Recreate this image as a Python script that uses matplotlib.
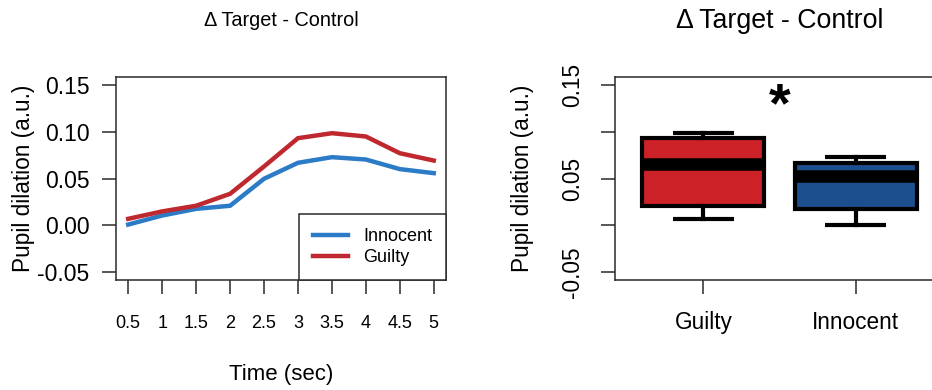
import matplotlib
matplotlib.use("Agg")
import matplotlib.pyplot as plt
import numpy as np

plt.rcParams["font.family"] = ["Liberation Sans", "DejaVu Sans"]

# data
time_sec = [0.5, 1, 1.5, 2, 2.5, 3, 3.5, 4, 4.5, 5]
innocent = [0.001, 0.0106, 0.0177, 0.021, 0.0497, 0.0667, 0.0727, 0.0702, 0.060, 0.0557]
guilty = [0.0071, 0.015, 0.021, 0.0337, 0.0628, 0.0929, 0.0982, 0.0947, 0.0769, 0.0691]
y_ticks = [-0.05, 0.00, 0.05, 0.10, 0.15]
box_groups = ["Guilty", "Innocent"]

title = "\u0394 Target - Control"
ylabel = "Pupil dilation (a.u.)"

INNOCENT_LINE = "#2B7BC6"
GUILTY_LINE = "#C02830"
GUILTY_FILL = "#CB2127"
INNOCENT_FILL = "#1C4F8D"
SPINE = "#2a2a2a"


def fivenum(vals):
    """Tukey five-number summary, as R's boxplot uses."""
    x = np.sort(np.asarray(vals, dtype=float))
    n = len(x)
    n4 = np.floor((n + 3) / 2) / 2
    d = np.array([1, n4, (n + 1) / 2, n + 1 - n4, n]) - 1
    return 0.5 * (x[np.floor(d).astype(int)] + x[np.ceil(d).astype(int)])


W, H = 932, 390
fig = plt.figure(figsize=(W / 100, H / 100), dpi=100)

# ---- left: time course ----------------------------------------------------
ax1 = fig.add_axes([116 / W, 110 / H, 330 / W, 203 / H])
ax1.plot(time_sec, innocent, color=INNOCENT_LINE, lw=3.2, label="Innocent",
         solid_joinstyle="miter")
ax1.plot(time_sec, guilty, color=GUILTY_LINE, lw=3.2, label="Guilty",
         solid_joinstyle="miter")
ax1.set_xlim(0.32, 5.18)
ax1.set_ylim(-0.058, 0.158)
ax1.set_xticks(time_sec)
ax1.set_xticklabels([f"{t:g}" for t in time_sec])
ax1.set_yticks(y_ticks)
ax1.set_yticklabels([f"{v:.2f}" for v in y_ticks])
ax1.tick_params(axis="x", length=10, width=1.1, pad=15, labelsize=13, color=SPINE)
ax1.tick_params(axis="y", length=10, width=1.1, pad=9, labelsize=16.5, color=SPINE)
for s in ax1.spines.values():
    s.set_linewidth(1.1)
    s.set_color(SPINE)
leg = ax1.legend(loc="lower right", fontsize=13, frameon=True, fancybox=False,
                 borderaxespad=0, handlelength=1.95, handletextpad=0.85,
                 labelspacing=0.25, borderpad=0.75, framealpha=1)
leg.get_frame().set_edgecolor(SPINE)
leg.get_frame().set_linewidth(1.1)
fig.text(281 / W, 1 - 26.5 / H, title, ha="center", va="baseline", fontsize=14.3)
fig.text(24 / W, (H - 178) / H, ylabel, rotation=90,
         ha="center", va="center", fontsize=16.3)
fig.text(281 / W, 1 - 380 / H, "Time (sec)", ha="center", va="baseline", fontsize=16)

# ---- right: boxplot of the same series --------------------------------------
ax2 = fig.add_axes([615 / W, 110 / H, 329 / W, 203 / H])
stats = []
for name, vals in zip(box_groups, [guilty, innocent]):
    lo, q1, med, q3, hi = fivenum(vals)
    stats.append(dict(label=name, whislo=lo, q1=q1, med=med, q3=q3, whishi=hi, fliers=[]))
bp = ax2.bxp(stats, positions=[1, 2], widths=0.8, capwidths=0.4, patch_artist=True,
             boxprops=dict(linewidth=3, edgecolor="black"),
             medianprops=dict(color="black", linewidth=9, solid_capstyle="butt"),
             whiskerprops=dict(color="black", linewidth=3, linestyle="-"),
             capprops=dict(color="black", linewidth=3, solid_capstyle="butt"))
for patch, fc in zip(bp["boxes"], [GUILTY_FILL, INNOCENT_FILL]):
    patch.set_facecolor(fc)
ax2.set_xlim(0.42, 2.58)
ax2.set_ylim(-0.058, 0.158)
ax2.set_yticks(y_ticks)
ax2.set_yticklabels(["-0.05", "", "0.05", "", "0.15"], rotation=90, va="center")
ax2.tick_params(axis="x", length=10, width=1.1, pad=12, labelsize=16.3, color=SPINE)
ax2.tick_params(axis="y", length=10, width=1.1, pad=12, labelsize=16.3, color=SPINE)
for s in ax2.spines.values():
    s.set_linewidth(1.1)
    s.set_color(SPINE)
ax2.text(1.5, 0.111, "*", ha="center", va="baseline", fontsize=40, fontweight="bold")
fig.text(780 / W, 1 - 28 / H, title, ha="center", va="baseline", fontsize=19.3)
fig.text(522 / W, (H - 178) / H, ylabel, rotation=90,
         ha="center", va="center", fontsize=16.3)

fig.savefig("out.png", dpi=100)
